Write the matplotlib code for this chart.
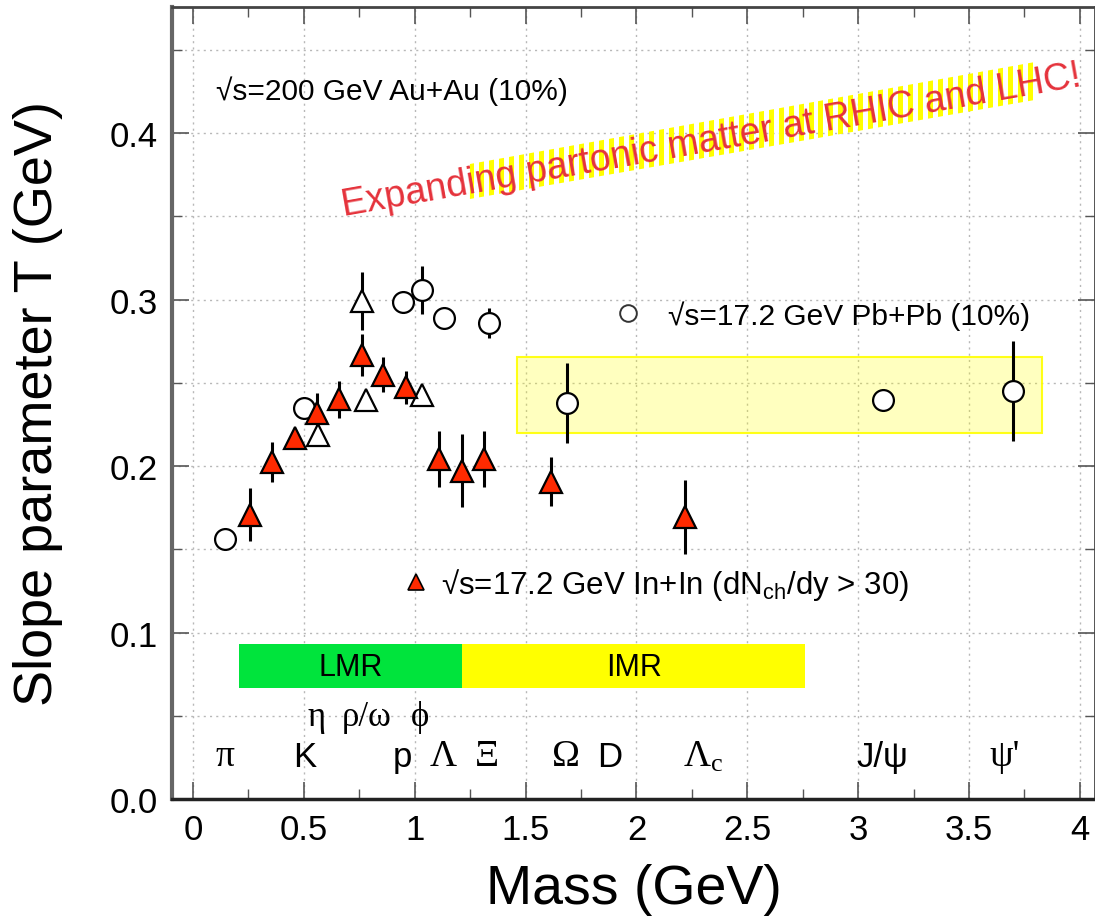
import numpy as np
import matplotlib
matplotlib.use("Agg")
import matplotlib.pyplot as plt
from matplotlib.patches import Polygon, Rectangle
from matplotlib.lines import Line2D
from matplotlib.ticker import MultipleLocator, FuncFormatter

plt.rcParams["font.family"] = ["Liberation Sans", "DejaVu Sans"]

# ---- data ----
# Pb+Pb 17.2 GeV, open circles
pb_mass = [0.144, 0.500, 0.947, 1.033, 1.132, 1.335, 1.687, 3.113, 3.699]
pb_T = [0.156, 0.2346, 0.2983, 0.3057, 0.2887, 0.2859, 0.2377, 0.2398, 0.2452]
pb_err = [0.0, 0.0, 0.0, 0.0145, 0.0, 0.009, 0.024, 0.0, 0.030]

# open triangles
au_mass = [0.565, 0.761, 0.779, 1.031]
au_T = [0.2187, 0.2993, 0.2398, 0.2427]
au_err = [0.0, 0.0175, 0.0, 0.0]

# In+In 17.2 GeV, red triangles
in_mass = [0.257, 0.358, 0.460, 0.558, 0.658, 0.761, 0.858, 0.961,
           1.111, 1.212, 1.312, 1.614, 2.219]
in_T = [0.1707, 0.2022, 0.2167, 0.2317, 0.2400, 0.2668, 0.2548, 0.2473,
        0.2042, 0.1972, 0.2042, 0.1907, 0.1694]
in_err = [0.016, 0.012, 0.005, 0.012, 0.011, 0.0125, 0.0105, 0.010,
          0.017, 0.022, 0.017, 0.015, 0.022]

# IMR band of T (yellow box)
box_mass = [1.46, 3.83]
box_T = [0.2198, 0.2655]

# mass regions
region_names = ["LMR", "IMR"]
region_lo = [0.207, 1.213]
region_hi = [1.213, 2.76]
region_colors = ["#00e43c", "#ffff00"]

# particle labels
row1_labels = ["η", "ρ/ω", "ϕ"]
row1_mass = [0.559, 0.785, 1.024]
row2_labels = ["π", "K", "p", "Λ", "Ξ", "Ω", "D", r"$\mathregular{Λ_c}$", "J/ψ", "ψ'"]
row2_mass = [0.144, 0.505, 0.943, 1.127, 1.326, 1.682, 1.88, 2.30, 3.107, 3.66]
row2_serif = [True, False, False, True, True, True, False, True, False, True]

RED = "#ff2a00"
TXT_RED = "#e5323b"

fig = plt.figure(figsize=(10.95, 9.2), dpi=100)
ax = fig.add_axes([172 / 1095, 1 - 800 / 920, 923 / 1095, 792 / 920])
ax.set_xlim(-0.0947, 4.068)
ax.set_ylim(0, 0.4757)

# ---- axes / ticks / grid ----
ax.xaxis.set_major_locator(MultipleLocator(0.5))
ax.xaxis.set_minor_locator(MultipleLocator(0.25))
ax.yaxis.set_major_locator(MultipleLocator(0.1))
ax.yaxis.set_minor_locator(MultipleLocator(0.05))
ax.xaxis.set_major_formatter(FuncFormatter(lambda v, p: f"{v:g}"))
ax.yaxis.set_major_formatter(FuncFormatter(lambda v, p: f"{v:.1f}"))
ax.tick_params(which="both", direction="in", top=True, right=True, labelsize=25)
ax.tick_params(which="major", length=12, width=1.2, color="#555555", pad=10)
ax.tick_params(which="minor", length=7, width=1.0, color="#555555")
ax.grid(which="major", axis="x", color="#b8b8b8", ls=(0, (1.5, 3)), lw=1.0)
ax.grid(which="both", axis="y", color="#b8b8b8", ls=(0, (1.5, 3)), lw=1.0)
ax.set_axisbelow(True)
ax.spines["left"].set_color("#666666")
ax.spines["left"].set_linewidth(3)
ax.spines["bottom"].set_color("#222222")
ax.spines["bottom"].set_linewidth(2.5)
ax.spines["top"].set_color("#444444")
ax.spines["top"].set_linewidth(2)
ax.spines["right"].set_color("#444444")
ax.spines["right"].set_linewidth(2)

ax.set_xlabel("Mass (GeV)", fontsize=40, labelpad=12)
ax.set_ylabel("Slope parameter T (GeV)", fontsize=39, labelpad=34)

# ---- yellow IMR box ----
ax.add_patch(Rectangle((box_mass[0], box_T[0]), box_mass[1] - box_mass[0],
                       box_T[1] - box_T[0], facecolor=(1, 1, 0, 0.25),
                       edgecolor=(1, 1, 0, 0.9), lw=1.5, zorder=1))

# ---- mass region bars ----
ax.barh([0.08] * 2, np.subtract(region_hi, region_lo), left=region_lo,
        height=0.0265, color=region_colors, zorder=1)
for name, lo, hi in zip(region_names, region_lo, region_hi):
    cx = (lo + hi) / 2 if name == "LMR" else 1.99
    ax.text(cx, 0.0795, name, ha="center", va="center", fontsize=22, zorder=2)

# ---- particle labels ----
for lab, m in zip(row1_labels, row1_mass):
    ax.text(m, 0.0498, lab, ha="center", va="center", fontsize=25,
            family=["Liberation Serif", "DejaVu Serif"])
for lab, m, serif in zip(row2_labels, row2_mass, row2_serif):
    if serif:
        fam, fs = ["Liberation Serif", "DejaVu Serif"], 27
    else:
        fam, fs = ["Liberation Sans", "DejaVu Sans"], 25
    ax.text(m, 0.0258, lab, ha="center", va="center", fontsize=fs, family=fam)

# ---- data ----
eb = dict(fmt="none", ecolor="black", elinewidth=2.2, capsize=0, zorder=3)
ax.errorbar(pb_mass, pb_T, yerr=pb_err, **eb)
ax.errorbar(au_mass, au_T, yerr=au_err, **eb)
ax.errorbar(in_mass, in_T, yerr=in_err, **eb)
ax.plot(pb_mass, pb_T, "o", ms=15, mfc="white", mec="black", mew=1.6, zorder=4)
ax.plot(au_mass, au_T, "^", ms=16, mfc="white", mec="black", mew=1.6, zorder=4)
ax.plot(in_mass, in_T, "^", ms=16, mfc=RED, mec="black", mew=1.6, zorder=5)

# ---- legends ----
h_pb = Line2D([], [], ls="none", marker="o", ms=12, mfc="white", mec="#333333", mew=1.4)
leg1 = ax.legend([h_pb], ["√s=17.2 GeV Pb+Pb (10%)"], loc="center left",
                 bbox_to_anchor=(0.478, 0.611), frameon=False, fontsize=21.5,
                 handlelength=1.0, handletextpad=0.85, borderpad=0, borderaxespad=0)
ax.add_artist(leg1)
h_in = Line2D([], [], ls="none", marker="^", ms=12, mfc=RED, mec="black", mew=1.2)
ax.legend([h_in], [r"√s=17.2 GeV In+In (dN$_\mathregular{ch}$/dy > 30)"], loc="center left",
          bbox_to_anchor=(0.2476, 0.2715), frameon=False, fontsize=22.5,
          handlelength=1.0, handletextpad=0.3, borderpad=0, borderaxespad=0)

ax.text(0.104, 0.4255, "√s=200 GeV Au+Au (10%)", ha="left", va="center", fontsize=21.5)

# ---- striped highlight + red slogan ----
band = Polygon([(1.249, 0.3604), (1.249, 0.3814), (3.820, 0.4432), (3.820, 0.4204)],
               closed=True, facecolor="none", edgecolor="none")
ax.add_patch(band)
stripes = ax.vlines(np.arange(1.255, 3.82, 0.045), 0.355, 0.45, color="#ffff00", lw=3.6, zorder=2)
stripes.set_clip_path(band)
ax.text(2.336, 0.396, "Expanding partonic matter at RHIC and LHC!", color=TXT_RED,
        fontsize=27, rotation=10, rotation_mode="anchor", ha="center", va="center", zorder=3)

fig.savefig("out.png", dpi=100)
